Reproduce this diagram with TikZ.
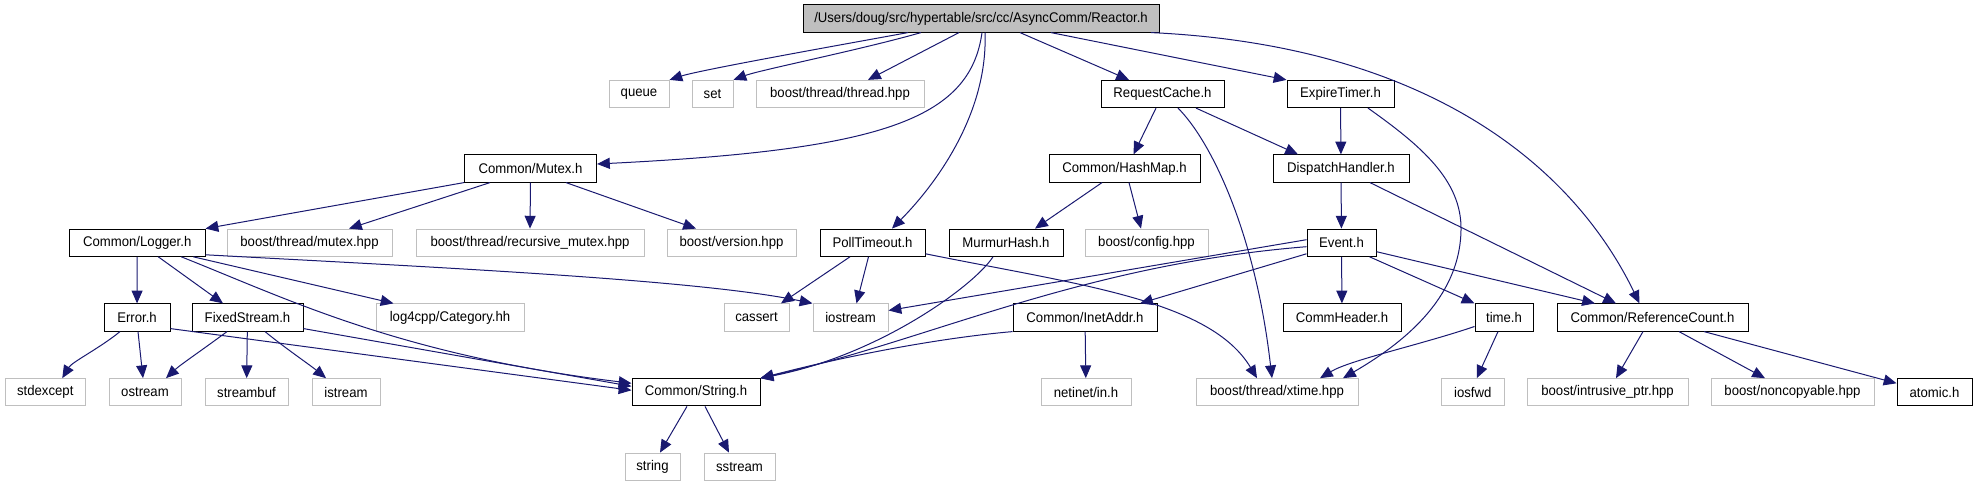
\documentclass[tikz,border=0pt]{standalone}
\usepackage{fontspec}
\setmainfont[FakeStretch=0.94]{Liberation Sans}
\usetikzlibrary{arrows.meta,calc}
\definecolor{ecol}{HTML}{191970}
\definecolor{gborder}{HTML}{BFBFBF}
\tikzset{
  doc/.style={draw=black, fill=white, line width=0.5pt, inner sep=0pt, minimum height=13.6pt, font=\fontsize{7pt}{8pt}\selectfont},
  ext/.style={doc, draw=gborder},
  root/.style={doc, fill=gborder},
  edge/.style={draw=ecol, line width=0.5pt, -{Triangle[length=6.4pt,width=5.5pt]}}
}
\begin{document}
\begin{tikzpicture}[x=0.5pt,y=-0.5pt]
\useasboundingbox (0,0) rectangle (1977,485);
% rank 0
\node[root, minimum width=178pt] (reactor) at (981,18.5) {/Users/doug/src/hypertable/src/cc/AsyncComm/Reactor.h};
% rank 1
\node[ext, minimum width=30pt] (queue) at (639,94) {queue};
\node[ext, minimum width=20.5pt] (set) at (712.5,94) {set};
\node[ext, minimum width=84pt] (thread) at (840,94) {boost/thread/thread.hpp};
\node[doc, minimum width=61.5pt] (reqcache) at (1162.5,94) {RequestCache.h};
\node[doc, minimum width=53.5pt] (expire) at (1340.5,94) {ExpireTimer.h};
% rank 2
\node[doc, minimum width=66pt] (mutex) at (530.5,168.5) {Common/Mutex.h};
\node[doc, minimum width=75.5pt] (hashmap) at (1124.5,168.5) {Common/HashMap.h};
\node[doc, minimum width=68pt] (dispatch) at (1341,168.5) {DispatchHandler.h};
% rank 3
\node[doc, minimum width=67.75pt] (logger) at (137.25,242.7) {Common/Logger.h};
\node[ext, minimum width=82.5pt] (bmutex) at (309.5,242.7) {boost/thread/mutex.hpp};
\node[ext, minimum width=114pt] (recmutex) at (530,242.7) {boost/thread/recursive\_mutex.hpp};
\node[ext, minimum width=64.5pt] (version) at (731.5,242.7) {boost/version.hpp};
\node[doc, minimum width=52.5pt] (poll) at (872.5,242.7) {PollTimeout.h};
\node[doc, minimum width=57pt] (murmur) at (1006,242.7) {MurmurHash.h};
\node[ext, minimum width=61.5pt] (config) at (1146.5,242.7) {boost/config.hpp};
\node[doc, minimum width=34.5pt] (event) at (1341.5,242.7) {Event.h};
% rank 4
\node[doc, minimum width=33pt] (error) at (137,317.5) {Error.h};
\node[doc, minimum width=55.5pt] (fixed) at (247.5,317.5) {FixedStream.h};
\node[ext, minimum width=74pt] (log4) at (450,317.5) {log4cpp/Category.hh};
\node[ext, minimum width=32.5pt] (cassert) at (756.5,317.5) {cassert};
\node[ext, minimum width=37.5pt] (iostream) at (850.5,317.5) {iostream};
\node[doc, minimum width=72pt] (inet) at (1085,317.5) {Common/InetAddr.h};
\node[doc, minimum width=59pt] (commh) at (1342,317.5) {CommHeader.h};
\node[doc, minimum width=29pt] (timeh) at (1504,317.5) {time.h};
\node[doc, minimum width=95.5pt] (refc) at (1652.5,317.5) {Common/ReferenceCount.h};
% rank 5
\node[ext, minimum width=39.75pt] (stdexc) at (45.25,392.3) {stdexcept};
\node[ext, minimum width=36pt] (ostream) at (145,392.3) {ostream};
\node[ext, minimum width=41.5pt] (streambuf) at (246.5,392.3) {streambuf};
\node[ext, minimum width=34pt] (istream) at (346,392.3) {istream};
\node[doc, minimum width=64pt] (cstring) at (696,392.3) {Common/String.h};
\node[ext, minimum width=45pt] (netinet) at (1086,392.3) {netinet/in.h};
\node[ext, minimum width=81pt] (xtime) at (1277,392.3) {boost/thread/xtime.hpp};
\node[ext, minimum width=31.25pt] (iosfwd) at (1472.75,392.3) {iosfwd};
\node[ext, minimum width=80.5pt] (intr) at (1607.5,392.3) {boost/intrusive\_ptr.hpp};
\node[ext, minimum width=81.5pt] (nonc) at (1792.5,392.3) {boost/noncopyable.hpp};
\node[doc, minimum width=37.5pt] (atomic) at (1934.5,392.3) {atomic.h};
% rank 6
\node[ext, minimum width=27.5pt] (sstring) at (652.5,466.7) {string};
\node[ext, minimum width=35.5pt] (sstream) at (739.5,466.7) {sstream};

% edges from Reactor.h
\draw[edge] ($(reactor.south)+(-73,0)$) .. controls (840,45) and (700,70) .. (queue.north east);
\draw[edge] ($(reactor.south)+(-60,0)$) .. controls (860,50) and (760,70) .. (set.north east);
\draw[edge] ($(reactor.south)+(-22,0)$) -- ($(thread.north)+(28,0)$);
\draw[edge] ($(reactor.south)+(1,0)$) .. controls (970,120) and (880,150) .. ($(mutex.east)+(0,-4.5)$);
\draw[edge] ($(reactor.south)+(4,0)$) .. controls (988,110) and (940,180) .. ($(poll.north)+(19.5,0)$);
\draw[edge] ($(reactor.south)+(39,0)$) -- ($(reqcache.north)+(-33.5,0)$);
\draw[edge] ($(reactor.south)+(70,0)$) -- (expire.north west);
\draw[edge] ($(reactor.south)+(170,0)$) .. controls (1420,45) and (1570,160) .. ($(refc.north)+(-13,0)$);
% Mutex
\draw[edge] (mutex.south west) -- (logger.north east);
\draw[edge] ($(mutex.south)+(-40.5,0)$) -- ($(bmutex.north)+(39.5,0)$);
\draw[edge] (mutex.south) -- (recmutex.north);
\draw[edge] ($(mutex.south)+(35.5,0)$) -- ($(version.north)+(-35.5,0)$);
% Logger
\draw[edge] (logger) -- (error);
\draw[edge] ($(logger.south)+(21,0)$) -- ($(fixed.north)+(-24.5,0)$);
\draw[edge] ($(logger.south)+(56,0)$) -- ($(log4.north)+(-56.5,0)$);
\draw[edge] ($(logger.south east)+(0,-2)$) .. controls (450,268) and (700,280) .. (iostream.north west);
\draw[edge] ($(logger.south)+(44,0)$) .. controls (290,300) and (400,355) .. ($(cstring.west)+(0,-9)$);
% Error
\draw[edge] ($(error.south)+(-17,0)$) .. controls (100,348) and (72,362) .. ($(stdexc.north)+(17,0)$);
\draw[edge] ($(error.south)+(1,0)$) -- ($(ostream.north)+(-2,0)$);
\draw[edge] ($(error.south east)+(0,-3)$) -- ($(cstring.west)+(0,-2)$);
% FixedStream
\draw[edge] ($(fixed.south)+(-20.5,0)$) .. controls (205,348) and (180,365) .. ($(ostream.north)+(21,0)$);
\draw[edge] (fixed) -- (streambuf);
\draw[edge] ($(fixed.south)+(17.5,0)$) .. controls (285,348) and (310,365) .. ($(istream.north)+(-20,0)$);
\draw[edge] ($(fixed.south east)+(0,-3)$) -- ($(cstring.west)+(0,-6)$);
% PollTimeout
\draw[edge] ($(poll.south)+(-22.5,0)$) -- ($(cassert.north)+(24.5,0)$);
\draw[edge] ($(poll.south)+(-4,0)$) -- ($(iostream.north)+(6,0)$);
\draw[edge] ($(poll.south east)+(0,-3)$) .. controls (1080,285) and (1210,300) .. ($(xtime.north)+(-20,0)$);
% MurmurHash
\draw[edge] ($(murmur.south)+(-13,0)$) .. controls (975,285) and (880,355) .. (cstring.north east);
% RequestCache
\draw[edge] ($(reqcache.south)+(-6.5,0)$) -- ($(hashmap.north)+(9,0)$);
\draw[edge] ($(reqcache.south)+(33.5,0)$) -- ($(dispatch.north)+(-43,0)$);
\draw[edge] ($(reqcache.south)+(15.5,0)$) .. controls (1210,140) and (1255,230) .. ($(xtime.north)+(-5,0)$);
% HashMap
\draw[edge] ($(hashmap.south)+(-22.5,0)$) -- ($(murmur.north)+(29,0)$);
\draw[edge] ($(hashmap.south)+(4.5,0)$) -- ($(config.north)+(-5.5,0)$);
% ExpireTimer
\draw[edge] (expire) -- (dispatch);
\draw[edge] ($(expire.south)+(27.5,0)$) .. controls (1420,145) and (1462,180) .. (1461,230) .. controls (1460,300) and (1400,345) .. ($(xtime.north)+(66,0)$);
% DispatchHandler
\draw[edge] (dispatch) -- (event);
\draw[edge] ($(dispatch.south)+(29,0)$) -- ($(refc.north)+(-36.5,0)$);
% Event
\draw[edge] ($(event.west)+(0,-3)$) -- ($(iostream.east)+(0,-7)$);
\draw[edge] ($(event.west)+(0,4)$) .. controls (1080,265) and (930,340) .. (cstring.north east);
\draw[edge] ($(event.south west)+(0,-3)$) -- ($(inet.north)+(55,0)$);
\draw[edge] (event) -- (commh);
\draw[edge] ($(event.south)+(28,0)$) -- (timeh.north west);
\draw[edge] ($(event.east)+(0,9)$) -- ($(refc.north)+(-57.5,0)$);
% InetAddr
\draw[edge] (inet.south west) .. controls (940,338) and (850,355) .. (cstring.north east);
\draw[edge] (inet) -- (netinet);
% time.h
\draw[edge] ($(timeh.west)+(0,9)$) .. controls (1420,345) and (1350,360) .. ($(xtime.north)+(43,0)$);
\draw[edge] ($(timeh.south)+(-6,0)$) -- ($(iosfwd.north)+(4,0)$);
% ReferenceCount
\draw[edge] ($(refc.south)+(-9.5,0)$) -- ($(intr.north)+(8.5,0)$);
\draw[edge] ($(refc.south)+(26.5,0)$) -- ($(nonc.north)+(-27.5,0)$);
\draw[edge] ($(refc.south)+(51.5,0)$) -- ($(atomic.west)+(0,-9)$);
% String
\draw[edge] ($(cstring.south)+(-9,0)$) -- ($(sstring.north)+(7.5,0)$);
\draw[edge] ($(cstring.south)+(9,0)$) -- ($(sstream.north)+(-10.5,0)$);
\end{tikzpicture}
\end{document}
